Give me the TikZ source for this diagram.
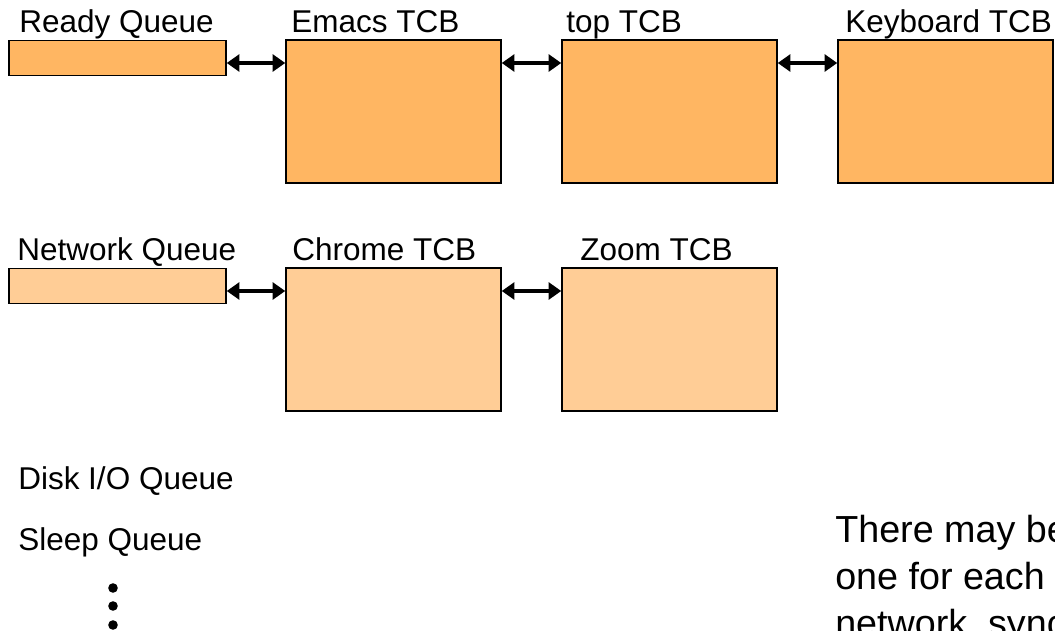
\documentclass[tikz,border=0pt]{standalone}
\usepackage{fontspec}
\setmainfont{Liberation Sans}
\usetikzlibrary{arrows.meta}
\definecolor{topfill}{RGB}{255,182,98}
\definecolor{botfill}{RGB}{255,205,150}
\tikzset{
  tcb/.style={draw=black, line width=1.4pt, inner sep=0pt, outer sep=0pt, minimum width=5.375cm, minimum height=3.575cm},
  qbox/.style={draw=black, line width=1.4pt, inner sep=0pt, outer sep=0pt, minimum width=5.425cm, minimum height=0.875cm},
  lbl/.style={anchor=base west, inner sep=0pt, font=\fontsize{22.4}{26}\selectfont},
  link/.style={{Triangle[length=9pt,width=12pt]}-{Triangle[length=9pt,width=12pt]}, line width=2.6pt, shorten <=0.5pt, shorten >=0.5pt},
  dot/.style={circle, fill=black, inner sep=0pt, minimum size=0.24cm},
}
\begin{document}
\begin{tikzpicture}[x=0.025cm, y=-0.025cm]
\useasboundingbox (0,0) rectangle (1055,631);
\clip (0,0) rectangle (1055,631);
% top row
\node[qbox, fill=topfill] (rq) at (117.5,58) {};
\node[tcb, fill=topfill] (emacs) at (393.5,111.5) {};
\node[tcb, fill=topfill] (top) at (669.5,111.5) {};
\node[tcb, fill=topfill] (kb) at (945.5,111.5) {};
\node[lbl] (rql) at (19,32) {Ready Queue};
\node[lbl] (emacsl) at (291,32) {Emacs TCB};
\node[lbl] (topl) at (566,32) {top TCB};
\node[lbl] (kbl) at (845,32) {Keyboard TCB};
\draw[link] (rq.east |- 0,63) -- (emacs.west |- 0,63);
\draw[link] (emacs.east |- 0,63) -- (top.west |- 0,63);
\draw[link] (top.east |- 0,63) -- (kb.west |- 0,63);
% second row
\node[qbox, fill=botfill] (nq) at (117.5,286) {};
\node[tcb, fill=botfill] (chrome) at (393.5,339.5) {};
\node[tcb, fill=botfill] (zoom) at (669.5,339.5) {};
\node[lbl] (nql) at (17,260) {Network Queue};
\node[lbl] (chromel) at (292,260) {Chrome TCB};
\node[lbl] (zooml) at (580,260) {Zoom TCB};
\draw[link] (nq.east |- 0,291) -- (chrome.west |- 0,291);
\draw[link] (chrome.east |- 0,291) -- (zoom.west |- 0,291);
% other queues
\node[lbl] (disk) at (18,489) {Disk I/O Queue};
\node[lbl] (sleep) at (18,550) {Sleep Queue};
\node[dot] (d1) at (113,588) {};
\node[dot] (d2) at (113,606) {};
\node[dot] (d3) at (113,625) {};
% note
\node[anchor=base west, inner sep=0pt, align=left, font=\fontsize{26.8}{33.3}\selectfont] (note) at (835,636)
  {There may be many wait queues,\\one for each type of wait (particular device,\\network, synchronization, \dots)};
\end{tikzpicture}
\end{document}
